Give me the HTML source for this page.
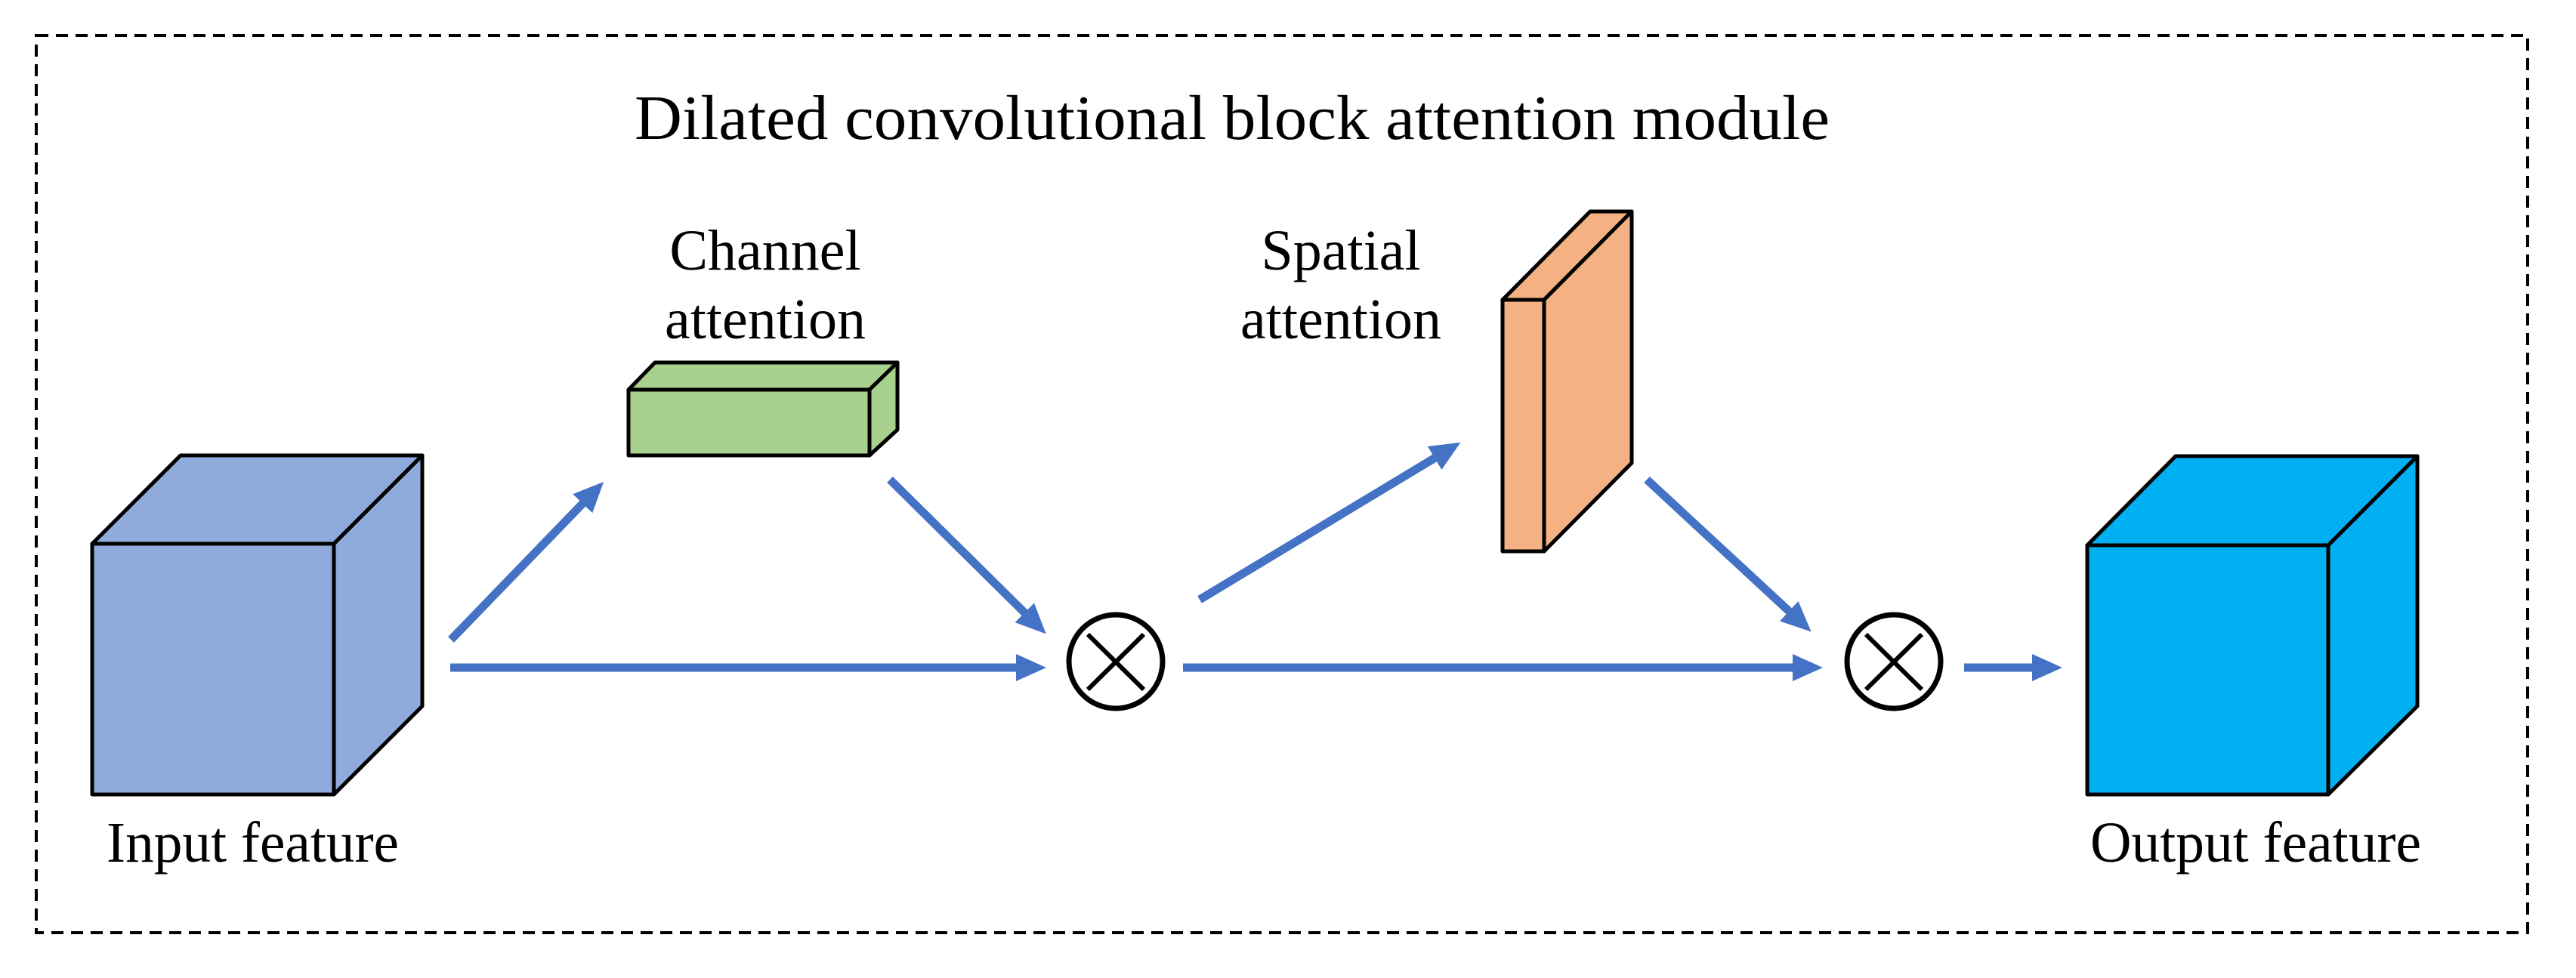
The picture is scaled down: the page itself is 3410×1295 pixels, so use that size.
<!DOCTYPE html>
<html><head><meta charset="utf-8"><style>
html,body{margin:0;padding:0;background:#fff;}
svg{display:block;}
text{font-family:"Liberation Serif",serif;fill:#000;}
</style></head><body>
<svg width="3410" height="1295" viewBox="0 0 3410 1295" xmlns="http://www.w3.org/2000/svg">
<defs>
<marker id="ah" markerUnits="userSpaceOnUse" markerWidth="44" markerHeight="40" refX="1" refY="18" orient="auto" style="overflow:visible">
<path d="M0,0 L40,18 L0,36 Z" fill="#4472C4"/>
</marker>
</defs>
<rect x="48" y="47" width="3298" height="1188" fill="none" stroke="#000" stroke-width="4" stroke-dasharray="16,10"/>
<text x="840" y="184" font-size="84" textLength="1582" lengthAdjust="spacingAndGlyphs">Dilated convolutional block attention module</text>

<!-- input cube -->
<g stroke="#000" stroke-width="5" stroke-linejoin="round">
<polygon points="122,720 239,603 559,603 442,720" fill="#8FAADC"/>
<polygon points="442,720 559,603 559,935 442,1052" fill="#8FAADC"/>
<rect x="122" y="720" width="320" height="332" fill="#8FAADC"/>
</g>
<text x="141" y="1141" font-size="76" textLength="387" lengthAdjust="spacingAndGlyphs">Input feature</text>

<!-- green box -->
<g stroke="#000" stroke-width="5" stroke-linejoin="round">
<polygon points="832,516 867,480 1188,480 1151,516" fill="#A9D18E"/>
<polygon points="1151,516 1188,480 1188,569 1151,603" fill="#A9D18E"/>
<rect x="832" y="516" width="319" height="87" fill="#A9D18E"/>
</g>
<text x="1013" y="357" font-size="76" text-anchor="middle">Channel</text>
<text x="1013" y="448" font-size="76" text-anchor="middle">attention</text>

<!-- orange -->
<g stroke="#000" stroke-width="5" stroke-linejoin="round">
<polygon points="1989,397 2105,280 2160,280 2044,397" fill="#F4B183"/>
<polygon points="2044,397 2160,280 2160,613 2044,730" fill="#F4B183"/>
<rect x="1989" y="397" width="55" height="333" fill="#F4B183"/>
</g>
<text x="1775" y="357" font-size="76" text-anchor="middle">Spatial</text>
<text x="1775" y="448" font-size="76" text-anchor="middle">attention</text>

<!-- output cube -->
<g stroke="#000" stroke-width="5" stroke-linejoin="round">
<polygon points="2763,722 2880,604 3200,604 3082,722" fill="#00B0F0"/>
<polygon points="3082,722 3200,604 3200,935 3082,1052" fill="#00B0F0"/>
<rect x="2763" y="722" width="319" height="330" fill="#00B0F0"/>
</g>
<text x="2767" y="1141" font-size="76" textLength="438" lengthAdjust="spacingAndGlyphs">Output feature</text>

<!-- arrows -->
<g stroke="#4472C4" stroke-width="11" fill="none" marker-end="url(#ah)">
<line x1="597" y1="847" x2="772" y2="666"/>
<line x1="596" y1="884" x2="1346" y2="884"/>
<line x1="1178" y1="635" x2="1357" y2="812"/>
<line x1="1588" y1="794" x2="1900" y2="606"/>
<line x1="2180" y1="635" x2="2369" y2="810"/>
<line x1="1566" y1="884" x2="2374" y2="884"/>
<line x1="2600" y1="884" x2="2691" y2="884"/>
</g>

<!-- circles -->
<g stroke="#000" stroke-width="7" fill="#fff">
<circle cx="1477" cy="876" r="62"/>
<circle cx="2507" cy="876" r="62"/>
</g>
<g stroke="#000" stroke-width="6">
<line x1="1440" y1="840" x2="1514" y2="913"/>
<line x1="1514" y1="840" x2="1440" y2="913"/>
<line x1="2470" y1="840" x2="2544" y2="913"/>
<line x1="2544" y1="840" x2="2470" y2="913"/>
</g>
</svg>
</body></html>
